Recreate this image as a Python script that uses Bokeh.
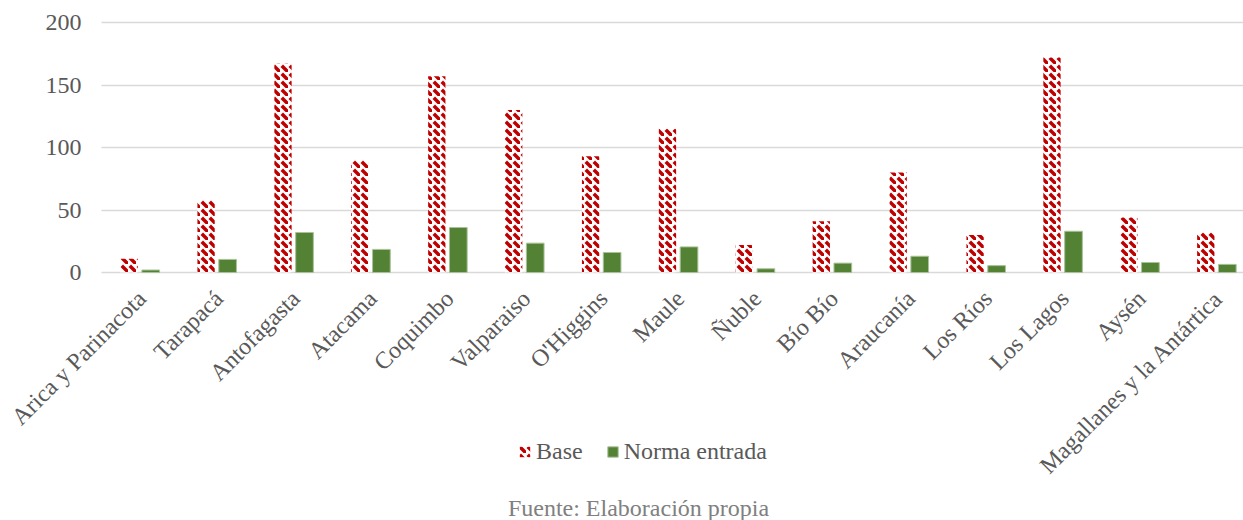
import math
from bokeh.plotting import figure
from bokeh.models import (Range1d, FixedTicker, Legend, LegendItem, Label,
                          ColumnDataSource, LinearAxis)
from bokeh.core.properties import value
from bokeh.transform import dodge
from bokeh.embed import file_html
from bokeh.resources import INLINE

regions = ["Arica y Parinacota", "Tarapacá", "Antofagasta", "Atacama", "Coquimbo",
           "Valparaiso", "O'Higgins", "Maule", "Ñuble", "Bío Bío", "Araucanía",
           "Los Ríos", "Los Lagos", "Aysén", "Magallanes y la Antártica"]
base = [11, 58, 167, 90, 157, 130, 93, 115, 22, 41, 80, 30, 172, 44, 32]
norma = [2, 10.5, 32, 18.5, 36, 23.5, 16, 20.5, 3, 7.5, 13, 5.5, 33, 8, 6.5]
y_ticks = [0, 50, 100, 150, 200]
source_note = "Fuente: Elaboración propia"

FONT = "Liberation Serif"
FS = "24px"
idx = list(range(len(regions)))
zeros = [0] * len(regions)
src = ColumnDataSource(dict(x=idx, base=base, norma=norma, region=regions, zero=zeros))

# the frame covers the whole canvas so that labels, legend and note are inside it
FRAME_W, FRAME_H = 1243, 520
TOP_PX, ZERO_PX = 22, 272          # pixel rows of the 200 and 0 grid lines
CAT_PX = 76.9
PX_PER_UNIT = (ZERO_PX - TOP_PX) / 200
x_start = -0.5 - 101 / CAT_PX
x_end = x_start + FRAME_W / CAT_PX
y_end = 200 + TOP_PX / PX_PER_UNIT
y_start = -(FRAME_H - ZERO_PX) / PX_PER_UNIT

p = figure(frame_width=FRAME_W, frame_height=FRAME_H, output_backend="svg",
           toolbar_location=None,
           x_range=Range1d(x_start, x_end), y_range=Range1d(y_start, y_end),
           min_border_left=0, min_border_right=0, min_border_top=0,
           min_border_bottom=0, outline_line_color=None,
           x_axis_location=None, y_axis_location=None)

r1 = p.vbar(x=dodge("x", -0.14), top="base", width=0.225, source=src,
            fill_color="white", line_color=None,
            hatch_pattern="left_diagonal_dash", hatch_color="#C00000",
            hatch_weight=3.5, hatch_scale=8)
r2 = p.vbar(x=dodge("x", 0.14), top="norma", width=0.23, source=src,
            fill_color="#548235", line_color="#a9c299", line_width=1)

# category labels, rotated like the original's axis labels
p.text(x="x", y="zero", text="region", source=src, angle=math.pi / 4,
       text_align="right", text_baseline="middle", x_offset=2, y_offset=22,
       text_font=value(FONT), text_font_size=FS, text_color="#595959")

yaxis = LinearAxis(fixed_location=-0.5, ticker=FixedTicker(ticks=y_ticks))
yaxis.major_label_text_font = FONT
yaxis.major_label_text_font_size = FS
yaxis.major_label_text_color = "#595959"
yaxis.major_tick_line_color = None
yaxis.minor_tick_line_color = None
yaxis.major_tick_out = 0
yaxis.major_tick_in = 0
yaxis.axis_line_color = None
yaxis.major_label_standoff = 20
p.add_layout(yaxis, "left")

p.xgrid.grid_line_color = None
p.ygrid.ticker = FixedTicker(ticks=y_ticks)
p.ygrid.grid_line_color = "#d9d9d9"
p.ygrid.grid_line_width = 1.5
p.ygrid.cross_bounds = (-0.5, x_end)

legend = Legend(items=[LegendItem(label="Base", renderers=[r1]),
                       LegendItem(label="Norma entrada", renderers=[r2])],
                orientation="horizontal", location=(518, 55),
                label_text_font=FONT, label_text_font_size=FS,
                label_text_color="#595959", glyph_width=13, glyph_height=13,
                spacing=23, label_standoff=5, border_line_color=None,
                background_fill_alpha=0, margin=0, padding=5)
p.add_layout(legend, "center")

note = Label(x=(638 - 101) / CAT_PX - 0.5, y=y_start + 13 / PX_PER_UNIT, text=source_note,
             text_align="center", text_baseline="middle", text_font=FONT,
             text_font_size=FS, text_color="#808080")
p.add_layout(note)

open("out.html", "w").write(file_html(p, INLINE))
